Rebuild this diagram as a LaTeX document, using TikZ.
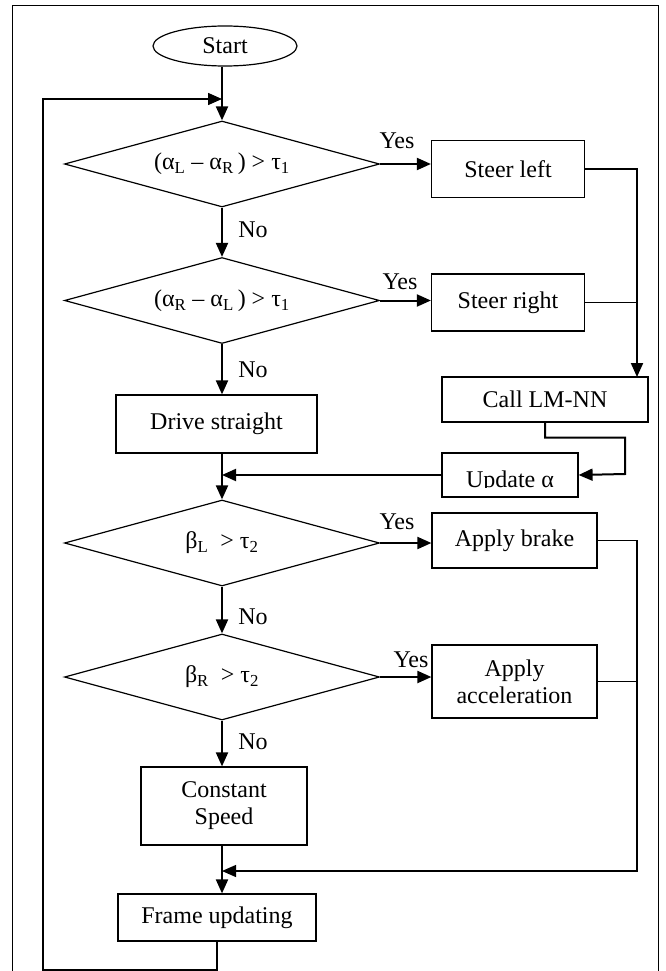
\documentclass[tikz,border=0pt]{standalone}
\usepackage{fontspec}
\setmainfont{Liberation Serif}
\usepackage{tikz}
\usetikzlibrary{shapes.geometric,arrows.meta}

\begin{document}
\begin{tikzpicture}[x=1pt,y=-1pt,
  font=\fontsize{24}{27}\selectfont,
  box/.style={rectangle, draw, line width=1.2pt, inner sep=0pt, align=center},
  cond/.style={diamond, draw, line width=1.2pt, inner sep=0pt, aspect=3.66, minimum width=315pt, minimum height=86pt},
  arr/.style={-{Triangle[length=14pt,width=12pt]}, line width=2pt},
  thinline/.style={line width=1.2pt}]
\useasboundingbox (0,0) rectangle (666,971);
\draw[line width=0.9pt] (12,971) -- (12,5) -- (658,5) -- (658,971);

\node[ellipse, draw, line width=1.2pt, inner sep=0pt, minimum width=144pt, minimum height=40pt] (start) at (225,46) {Start};
\node[cond] (c1) at (222,164) {(α\textsubscript{L} – α\textsubscript{R}\,) > τ\textsubscript{1}};
\node[cond] (c2) at (222,300.5) {(α\textsubscript{R} – α\textsubscript{L}\,) > τ\textsubscript{1}};
\node[cond] (c3) at (222,543) {β\textsubscript{L}\ \ > τ\textsubscript{2}};
\node[cond] (c4) at (222,677) {β\textsubscript{R}\ \ > τ\textsubscript{2}};

\node[box, minimum width=153pt, minimum height=57pt] (steerL) at (508,169) {Steer left};
\node[box, minimum width=153pt, minimum height=57pt] (steerR) at (508,302.5) {Steer right};
\node[box, minimum width=206pt, minimum height=45pt] (callnn) at (545,399.5) {Call LM-NN};
\node[box, minimum width=136pt, minimum height=44pt] (upd) at (510,475) {};
\node[box, minimum width=201pt, minimum height=58pt] (drive) at (216.5,424) {Drive straight};
\node[box, minimum width=165pt, minimum height=55pt] (brake) at (514.5,540.5) {Apply brake};
\node[box, minimum width=165pt, minimum height=73pt] (accel) at (514.5,681.5) {Apply\\acceleration};
\node[box, minimum width=166pt, minimum height=78pt] (const) at (224,806) {Constant\\Speed};
\node[box, minimum width=198pt, minimum height=47pt] (frame) at (217,917.5) {Frame updating};

\begin{scope}
\clip (443,454) rectangle (577,487);
\node[anchor=base] (updtext) at (510,487) {Update α};
\end{scope}

\node (yes1) at (397,141) {Yes};
\node (yes2) at (400,282) {Yes};
\node (yes3) at (397,522) {Yes};
\node (yes4) at (411,660) {Yes};
\node (no1) at (253,230) {No};
\node (no2) at (253,370) {No};
\node (no3) at (253,617) {No};
\node (no4) at (253,742) {No};

\coordinate (bus) at (637,377);
\coordinate (ujog) at (625,474);
\coordinate (merge) at (637,871);
\coordinate (lb) at (43,970);
\coordinate (lt) at (43,99);

\draw[arr] (c1.north |- start.south) -- (c1.north);
\draw[arr, line width=1.6pt] (frame.south) |- (lb) -- (lt) -- (c1.north |- lt);
\draw[arr] (c1.east) -- (c1.east -| steerL.west);
\draw[arr] (c1.south) -- (c2.north);
\draw[arr] (c2.east) -- (c2.east -| steerR.west);
\draw[arr] (c2.south) -- (c2.south |- drive.north);
\draw[arr] (steerL.east) -| (bus);
\draw[thinline] (steerR.east) -- (steerR.east -| bus);
\draw[arr] (callnn.south) -- ++(0,15) -| (ujog) -- (upd.east);
\draw[arr] (upd.west) -- (upd.west -| c2.south);
\draw[arr] (c2.south |- drive.south) -- (c3.north);
\draw[arr] (c3.east) -- (c3.east -| brake.west);
\draw[arr] (c3.south) -- (c4.north);
\draw[arr] (c4.east) -- (c4.east -| accel.west);
\draw[arr] (c4.south) -- (c4.south |- const.north);
\draw[arr, line width=1.2pt] (brake.east) -| (merge) -- (merge -| c4.south);
\draw[thinline] (accel.east) -- (accel.east -| merge);
\draw[arr] (c4.south |- const.south) -- (c4.south |- frame.north);

\end{tikzpicture}
\end{document}
